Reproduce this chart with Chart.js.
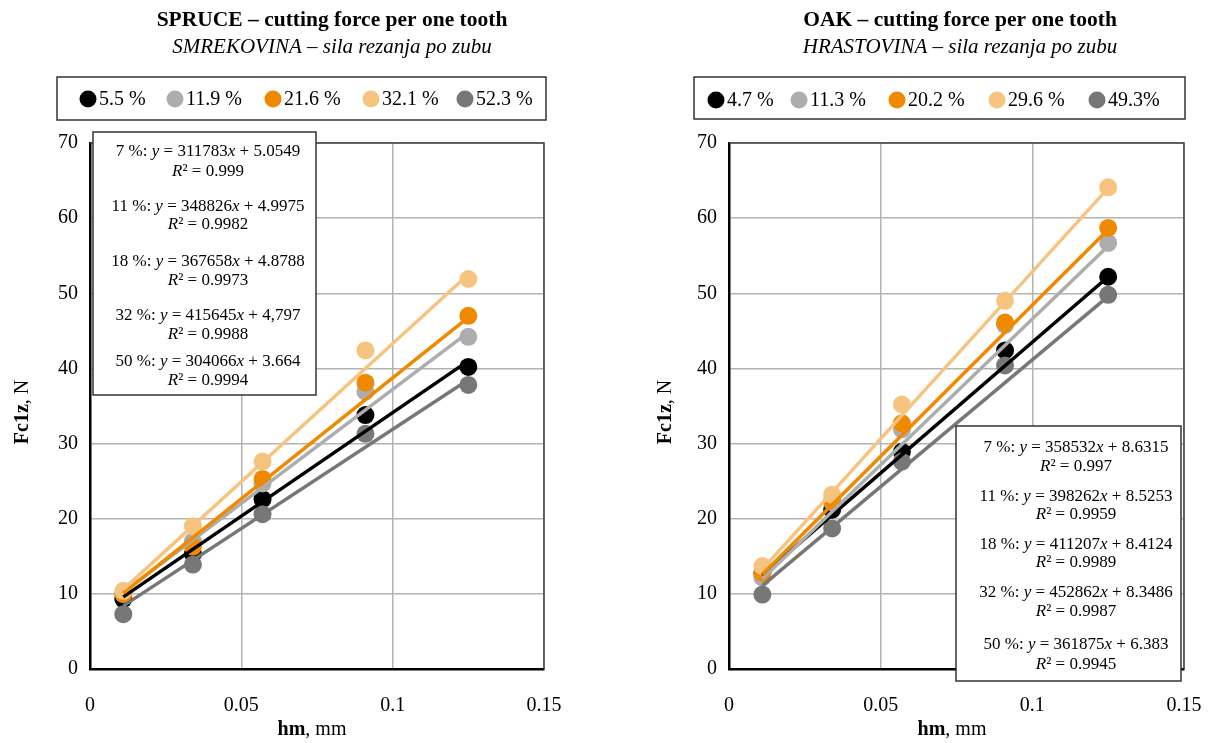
<!DOCTYPE html>
<html>
<head>
<meta charset="utf-8">
<script src="https://cdn.jsdelivr.net/npm/chart.js@4.4.1/dist/chart.umd.min.js"></script>
<style>
html, body { margin: 0; padding: 0; background: #fff; }
#wrap { position: relative; width: 1208px; height: 743px; }
.box { position: absolute; top: 0; width: 604px; height: 743px; }
</style>
</head>
<body>
<div id="wrap">
	<div class="box" style="left:0"><canvas id="spruce" width="604" height="743"></canvas></div>
	<div class="box" style="left:604px"><canvas id="oak" width="604" height="743"></canvas></div>
</div>
<script>
// hm, mm (same feed steps for both woods)
const hm = [0.011, 0.034, 0.057, 0.091, 0.125];
const xTickLabels = ['0', '0.05', '0.1', '0.15'];
const yTickLabels = ['0', '10', '20', '30', '40', '50', '60', '70'];
const colors = ['#000000', '#adadaf', '#ef8a00', '#f7c47f', '#777777'];

// SPRUCE - Fc1z, N
const spruceLabels = ['5.5 %', '11.9 %', '21.6 %', '32.1 %', '52.3 %'];
const spruce55 = [9.3, 15.3, 22.6, 33.8, 40.2];
const spruce119 = [10.0, 17.0, 24.7, 36.9, 44.2];
const spruce216 = [10.0, 16.3, 25.3, 38.1, 47.0];
const spruce321 = [10.4, 19.0, 27.6, 42.4, 51.9];
const spruce523 = [7.3, 13.9, 20.6, 31.3, 37.8];
// trend line values at first and last hm
const spruceTrend = [[9.6, 41.0], [10.2, 44.8], [10.1, 46.8], [10.6, 52.5], [8.4, 38.5]];
const spruceEq = ['7 %: y = 311783x + 5.0549', 'R² = 0.999',
	'11 %: y = 348826x + 4.9975', 'R² = 0.9982',
	'18 %: y = 367658x + 4.8788', 'R² = 0.9973',
	'32 %: y = 415645x + 4,797', 'R² = 0.9988',
	'50 %: y = 304066x + 3.664', 'R² = 0.9994'];

// OAK - Fc1z, N
const oakLabels = ['4.7 %', '11.3 %', '20.2 %', '29.6 %', '49.3%'];
const oak47 = [12.8, 21.2, 28.9, 42.4, 52.2];
const oak113 = [12.2, 22.2, 31.9, 45.8, 56.7];
const oak202 = [12.8, 22.4, 32.7, 46.1, 58.7];
const oak296 = [13.7, 23.2, 35.2, 49.0, 64.1];
const oak493 = [9.9, 18.7, 27.6, 40.4, 49.8];
const oakTrend = [[12.5, 52.2], [12.0, 56.3], [12.6, 58.5], [13.3, 64.0], [11.1, 49.6]];
const oakEq = ['7 %: y = 358532x + 8.6315', 'R² = 0.997',
	'11 %: y = 398262x + 8.5253', 'R² = 0.9959',
	'18 %: y = 411207x + 8.4124', 'R² = 0.9989',
	'32 %: y = 452862x + 8.3486', 'R² = 0.9987',
	'50 %: y = 361875x + 6.383', 'R² = 0.9945'];

const FONT = '"Liberation Serif", "Times New Roman", serif';

// draw a line of mixed fonts centred on cx
function drawSegs(ctx, segs, cx, cy) {
	let w = 0;
	segs.forEach(s => { ctx.font = s[1]; w += ctx.measureText(s[0]).width; });
	let x = cx - w / 2;
	ctx.textAlign = 'left';
	ctx.textBaseline = 'middle';
	segs.forEach(s => { ctx.font = s[1]; ctx.fillText(s[0], x, cy); x += ctx.measureText(s[0]).width; });
}

function eqSegs(str, size) {
	let n = size + 'px ' + FONT, it = 'italic ' + n;
	return str.split(/([xyR])/).filter(p => p !== '').map(p => [p, /^[xyR]$/.test(p) ? it : n]);
}

const decor = {
	id: 'decor',
	afterDraw(chart, args, o) {
		const ctx = chart.ctx, a = chart.chartArea;
		ctx.save();
		// plot frame top and right
		ctx.strokeStyle = '#404040';
		ctx.lineWidth = 1.5;
		ctx.beginPath();
		ctx.moveTo(a.left, a.top); ctx.lineTo(a.right, a.top); ctx.lineTo(a.right, a.bottom);
		ctx.stroke();
		ctx.fillStyle = '#000';
		// titles
		drawSegs(ctx, [[o.title, 'bold 21.5px ' + FONT]], o.titleX, 20);
		drawSegs(ctx, [[o.subtitle, 'italic 21px ' + FONT]], o.titleX, 47);
		// legend box
		ctx.strokeStyle = '#333';
		ctx.lineWidth = 1.5;
		ctx.strokeRect(o.legendBox[0], o.legendBox[1], o.legendBox[2], o.legendBox[3]);
		o.labels.forEach((lab, i) => {
			ctx.fillStyle = colors[i];
			ctx.beginPath();
			ctx.arc(o.legendX[i], o.legendY, 8.5, 0, Math.PI * 2);
			ctx.fill();
			ctx.fillStyle = '#000';
			ctx.font = '20px ' + FONT;
			ctx.textAlign = 'left';
			ctx.textBaseline = 'middle';
			ctx.fillText(lab, o.legendX[i] + 11, o.legendY + 1);
		});
		// axis titles
		drawSegs(ctx, [['hm', 'bold 20px ' + FONT], [', mm', '20px ' + FONT]], o.xTitleX, 730);
		ctx.save();
		ctx.translate(o.yTitleX, 412);
		ctx.rotate(-Math.PI / 2);
		drawSegs(ctx, [['Fc1z', 'bold 20px ' + FONT], [', N', '20px ' + FONT]], 0, 0);
		ctx.restore();
		// equation box
		const b = o.eqBox;
		ctx.fillStyle = '#fff';
		ctx.fillRect(b[0], b[1], b[2], b[3]);
		ctx.strokeStyle = '#333';
		ctx.strokeRect(b[0], b[1], b[2], b[3]);
		ctx.fillStyle = '#000';
		o.eq.forEach((line, i) => drawSegs(ctx, eqSegs(line, 17), o.eqX, o.eqY[i]));
		ctx.restore();
	}
};

function makeSets(labels, series, trend) {
	let sets = [];
	series.forEach((vals, i) => {
		sets.push({
			label: labels[i],
			data: hm.map((x, j) => ({ x: x, y: vals[j] })),
			backgroundColor: colors[i],
			borderColor: colors[i],
			pointRadius: 9,
			pointHoverRadius: 9,
			borderWidth: 0,
			showLine: false,
			order: 10 - i
		});
	});
	trend.forEach((t, i) => {
		sets.push({
			label: labels[i] + ' trend',
			data: [{ x: hm[0], y: t[0] }, { x: hm[hm.length - 1], y: t[1] }],
			borderColor: colors[i],
			borderWidth: 3.5,
			pointRadius: 0,
			showLine: true,
			order: 5 - i
		});
	});
	return sets;
}

function makeChart(id, sets, yWidth, padRight, decorOpts) {
	var ctx = document.getElementById(id).getContext('2d');
	return new Chart(ctx, {
		type: 'scatter',
		data: { datasets: sets },
		options: {
			responsive: false,
			animation: false,
			devicePixelRatio: 1,
			layout: { padding: { top: 143, right: padRight, bottom: 0, left: 0 } },
			plugins: { legend: { display: false }, tooltip: { enabled: false }, decor: decorOpts },
			scales: {
				x: {
					type: 'linear', min: 0, max: 0.15,
					afterFit: s => { s.height = 74; s.paddingLeft = 0; s.paddingRight = 0; },
					ticks: { stepSize: 0.05, padding: 25, color: '#000', font: { family: FONT, size: 20 },
						callback: (v, i) => xTickLabels[i] },
					grid: { color: '#b3b3b3', lineWidth: 1.5, drawTicks: false },
					border: { color: '#000', width: 2.5 }
				},
				y: {
					type: 'linear', min: 0, max: 70,
					afterFit: s => { s.width = yWidth; s.paddingTop = 0; s.paddingBottom = 0; },
					ticks: { stepSize: 10, padding: 12, color: '#000', font: { family: FONT, size: 20 },
						callback: (v, i) => yTickLabels[i] },
					grid: { color: '#b3b3b3', lineWidth: 1.5, drawTicks: false },
					border: { color: '#000', width: 2.5 }
				}
			}
		},
		plugins: [decor]
	});
}

makeChart('spruce', makeSets(spruceLabels, [spruce55, spruce119, spruce216, spruce321, spruce523], spruceTrend), 90, 60, {
	title: 'SPRUCE – cutting force per one tooth',
	subtitle: 'SMREKOVINA – sila rezanja po zubu',
	titleX: 332,
	labels: spruceLabels,
	legendBox: [57, 77, 489, 43],
	legendX: [88, 175, 273, 371, 465],
	legendY: 99,
	xTitleX: 312,
	yTitleX: 23,
	eqBox: [93, 132, 223, 263],
	eq: spruceEq,
	eqX: 208,
	eqY: [152, 172, 207, 225, 262, 281, 316, 335, 362, 381]
});

makeChart('oak', makeSets(oakLabels, [oak47, oak113, oak202, oak296, oak493], oakTrend), 125, 24, {
	title: 'OAK – cutting force per one tooth',
	subtitle: 'HRASTOVINA – sila rezanja po zubu',
	titleX: 356,
	labels: oakLabels,
	legendBox: [90, 77, 491, 42],
	legendX: [112, 195, 293, 393, 493],
	legendY: 100,
	xTitleX: 348,
	yTitleX: 62,
	eqBox: [352, 426, 225, 255],
	eq: oakEq,
	eqX: 472,
	eqY: [448, 467, 497, 515, 545, 563, 593, 612, 645, 665]
});
</script>
</body>
</html>
